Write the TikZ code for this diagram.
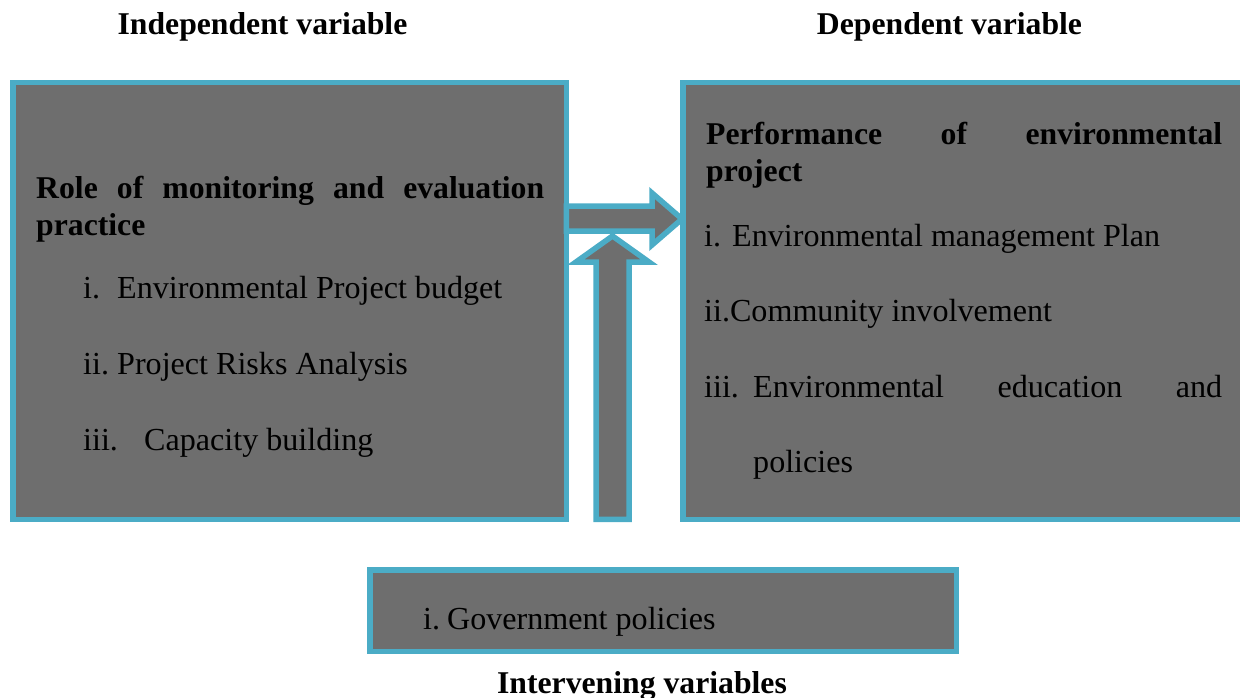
\documentclass[tikz,border=0pt]{standalone}
\usepackage{fontspec}
\setmainfont{Liberation Serif}
\definecolor{frameblue}{RGB}{75,172,198}
\definecolor{boxgray}{RGB}{110,110,110}
\tikzset{
  panel/.style={draw=frameblue, fill=boxgray, line width=5.5pt, line join=miter},
  txt/.style={inner sep=0pt, anchor=base west, font=\fontsize{32.1}{38}\selectfont},
  boldtxt/.style={inner sep=0pt, anchor=base west, font=\fontsize{31.7}{38}\selectfont\bfseries},
  head/.style={inner sep=0pt, anchor=base, font=\fontsize{31.7}{38}\selectfont\bfseries},
}
\begin{document}
\begin{tikzpicture}[x=1pt,y=-1pt]
\useasboundingbox (0,0) rectangle (1240,698);
\begin{scope}
\clip (0,0) rectangle (1240,698);
% frames
\draw[panel] (12.75,82.75) rectangle (566.25,519.25);
\draw[panel] (682.75,82.75) rectangle (1260,519.25);
\draw[panel] (369.75,569.75) rectangle (956.25,651.25);
% block arrow to the dependent variable
\draw[panel] (566.25,206) -- (652,206) -- (652,193) -- (682,219) -- (652,245)
  -- (652,231) -- (566.25,231) -- cycle;
% block arrow from the intervening variables
\draw[panel] (596,519.25) -- (596,262) -- (576,262) -- (612.5,236) -- (649,262)
  -- (629,262) -- (629,519.25) -- cycle;
\end{scope}
% headings
\node[head] (hind) at (262.5,35) {Independent variable};
\node[head] (hdep) at (949.5,35) {Dependent variable};
\node[head] (hint) at (642,693) {Intervening variables};
% independent variable
\node[boldtxt] (l1) at (36,198)
  {\hbox to 508pt{Role\hfill of\hfill monitoring\hfill and\hfill evaluation}};
\node[boldtxt] (l2) at (36,235) {practice};
\node[txt] (l3) at (83,298.5) {\makebox[34pt][l]{i.}Environmental Project budget};
\node[txt] (l4) at (83,374.5) {\makebox[34pt][l]{ii.}Project Risks Analysis};
\node[txt] (l5) at (83,450) {\makebox[61pt][l]{iii.}Capacity building};
% dependent variable
\node[boldtxt] (r1) at (706,145)
  {\hbox to 516pt{Performance\hfill of\hfill environmental}};
\node[boldtxt] (r2) at (706,182) {project};
\node[txt] (r3) at (704,246) {\makebox[28pt][l]{i.}Environmental management Plan};
\node[txt] (r4) at (704,321) {ii.Community involvement};
\node[txt] (r5) at (704,397)
  {\makebox[49pt][l]{iii.}\hbox to 469pt{Environmental\hfill education\hfill and}};
\node[txt] (r6) at (753,472) {policies};
% intervening variable
\node[txt] (b1) at (423,629) {\makebox[24pt][l]{i.}Government policies};
\end{tikzpicture}
\end{document}
